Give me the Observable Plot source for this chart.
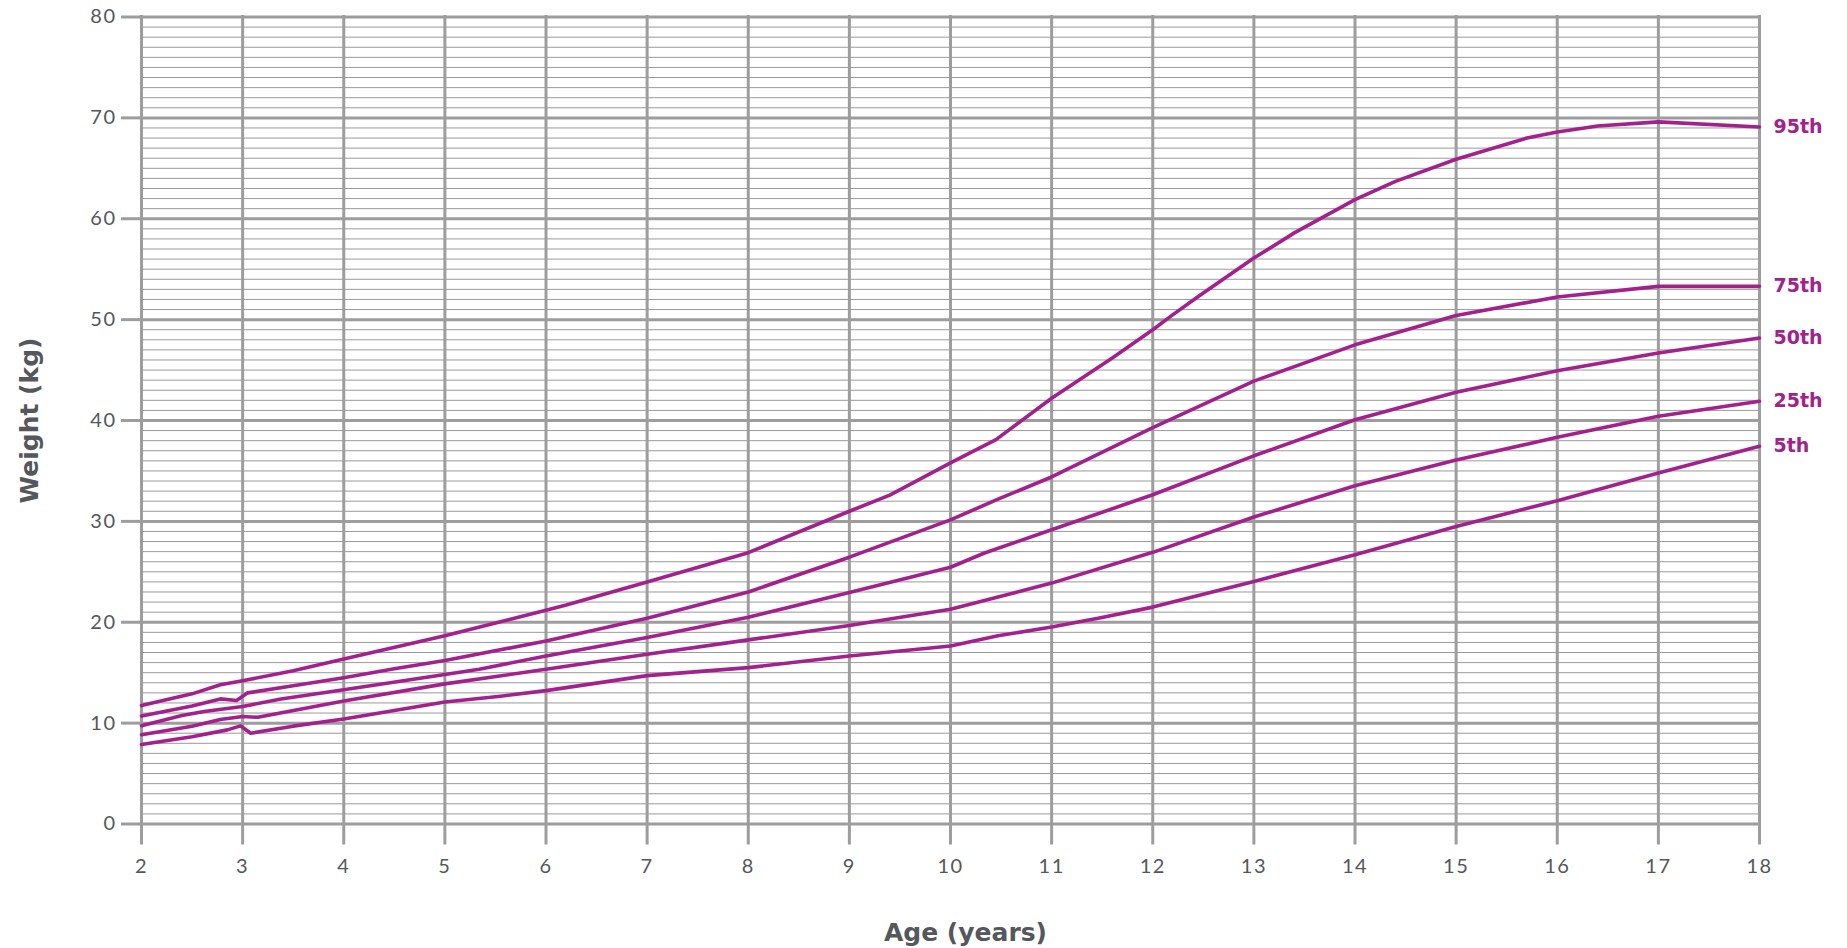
<!DOCTYPE html>
<html>
<head>
<meta charset="utf-8">
<script src="https://cdn.jsdelivr.net/npm/d3@7"></script>
<script src="https://cdn.jsdelivr.net/npm/@observablehq/plot@0.6"></script>
<style>
  html, body { margin: 0; padding: 0; background: #fff; }
  #chart svg { display: block; }
  #chart g[aria-label="y-axis tick label"], #chart g[aria-label="x-axis tick label"] { letter-spacing: 1.5px; }
</style>
</head>
<body>
<div id="chart"></div>
<script>
// Age (years) ticks and weight (kg) ticks
const ageTicks = [2,3,4,5,6,7,8,9,10,11,12,13,14,15,16,17,18];
const weightTicks = [0,10,20,30,40,50,60,70,80];
const weightMinor = d3.range(0, 81).filter(d => d % 10 !== 0);

// Percentile curves: [age, weight]
const p95 = [[2,11.74],[2.5,12.9],[2.78,13.8],[3,14.2],[3.5,15.2],[4,16.35],[5,18.65],[6,21.2],[6.2,21.7],[7,24.0],[8,26.9],[9,31.0],[9.4,32.6],[10,35.8],[10.45,38.1],[11,42.2],[11.6,46.2],[12,49.0],[12.2,50.5],[12.45,52.3],[13,56.1],[13.4,58.6],[14,61.9],[14.4,63.7],[15,65.9],[15.7,68.0],[16,68.6],[16.4,69.2],[17,69.6],[18,69.1]];
const p75 = [[2,10.7],[2.5,11.7],[2.78,12.4],[2.94,12.25],[3.05,13.0],[3.5,13.7],[4,14.5],[4.5,15.4],[5,16.2],[6,18.15],[7,20.4],[8,23.0],[9,26.45],[10,30.15],[10.47,32.2],[11,34.4],[12,39.3],[13,43.9],[14,47.5],[15,50.4],[16,52.25],[17,53.3],[18,53.3]];
const p50 = [[2,9.75],[2.4,10.75],[2.62,11.15],[3,11.65],[3.38,12.4],[4,13.3],[5,14.82],[5.34,15.34],[6,16.66],[7,18.48],[8,20.5],[9,22.94],[10,25.45],[10.33,26.84],[11,29.17],[12,32.64],[13,36.5],[14,40.08],[15,42.8],[16,44.94],[17,46.7],[18,48.18]];
const p25 = [[2,8.85],[2.5,9.7],[2.78,10.36],[3,10.65],[3.15,10.58],[4,12.2],[5,13.89],[6,15.34],[7,16.83],[8,18.25],[9,19.67],[10,21.29],[10.47,22.5],[11,23.88],[12,26.93],[13,30.43],[14,33.54],[15,36.08],[16,38.33],[17,40.42],[18,41.91]];
const p5 = [[2,7.88],[2.5,8.65],[2.85,9.33],[2.98,9.73],[3.08,9.0],[3.5,9.7],[4,10.4],[5,12.1],[5.55,12.67],[6,13.22],[7,14.71],[8,15.5],[9,16.66],[10,17.65],[10.47,18.66],[11,19.52],[11.46,20.4],[12,21.5],[13,24.05],[14,26.7],[15,29.5],[16,32.05],[17,34.8],[18,37.45]];

const seriesNames = ["95th", "75th", "50th", "25th", "5th"];
const seriesData = [p95, p75, p50, p25, p5];

const rows = seriesNames.flatMap((name, i) =>
  seriesData[i].map(([age, weight]) => ({name, age, weight})));
const ends = seriesNames.map((name, i) => {
  const last = seriesData[i][seriesData[i].length - 1];
  return {name, age: last[0], weight: last[1]};
});

const lineColor = "#a3218d";
const gridColor = "#9d9d9d";
const textColor = "#54575c";
const boldFont = "'DejaVu Sans', Lato, sans-serif";

const chart = Plot.plot({
  width: 1847,
  height: 948,
  marginLeft: 141,
  marginRight: 88,
  marginTop: 16.5,
  marginBottom: 124.5,
  x: {domain: [2, 18], label: null},
  y: {domain: [0, 80], label: null},
  style: {fontFamily: "Lato, 'Open Sans', sans-serif", fontSize: "20px", background: "#fff", color: textColor},
  marks: [
    Plot.ruleY(weightMinor, {stroke: "#9a9a9a", strokeWidth: 1}),
    Plot.ruleY(weightTicks, {stroke: gridColor, strokeWidth: 3, strokeLinecap: "square"}),
    Plot.ruleX(ageTicks, {stroke: gridColor, strokeWidth: 3, strokeLinecap: "square"}),
    Plot.axisY({ticks: weightTicks, tickSize: 20, tickPadding: 5, stroke: gridColor, strokeWidth: 3, fill: textColor, label: null}),
    Plot.axisX({ticks: ageTicks, tickSize: 21, tickPadding: 14, stroke: gridColor, strokeWidth: 3, fill: textColor, label: null, tickFormat: d => String(d)}),
    Plot.line(rows, {x: "age", y: "weight", z: "name", stroke: lineColor, strokeWidth: 3.6, curve: "linear", strokeLinejoin: "round"}),
    Plot.text(ends, {x: "age", y: "weight", text: "name", dx: 14, textAnchor: "start", lineAnchor: "middle", fill: lineColor, fontWeight: "bold", fontSize: 19, fontFamily: boldFont}),
    Plot.text(["Weight (kg)"], {frameAnchor: "left", rotate: -90, dx: -112, textAnchor: "middle", lineAnchor: "middle", fill: textColor, fontWeight: "bold", fontSize: 25, fontFamily: boldFont}),
    Plot.text(["Age (years)"], {frameAnchor: "bottom", dy: 109, dx: 15, textAnchor: "middle", lineAnchor: "middle", fill: textColor, fontWeight: "bold", fontSize: 25, fontFamily: boldFont})
  ]
});

document.getElementById("chart").appendChild(chart);
</script>
</body>
</html>
